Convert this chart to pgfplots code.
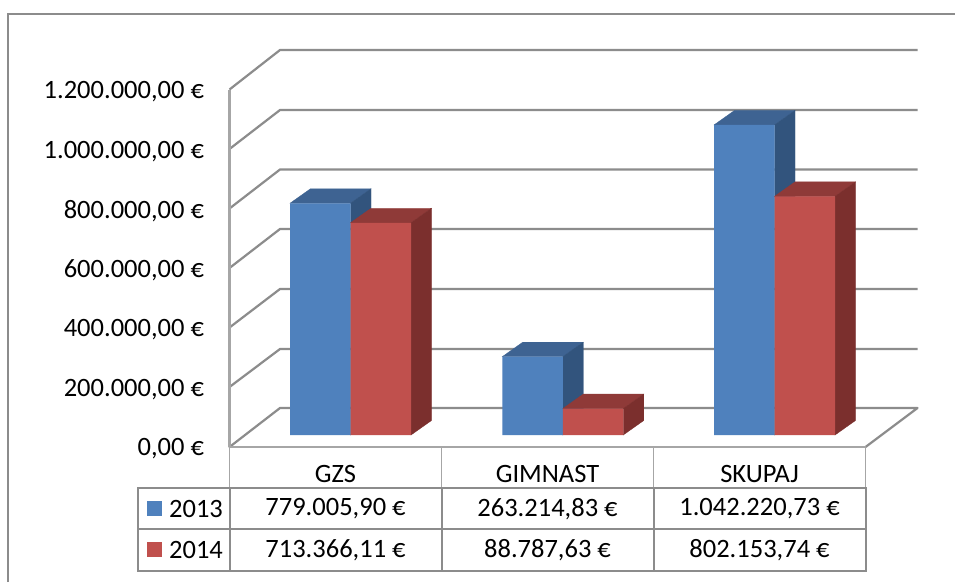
\documentclass[border=0pt]{standalone}
\usepackage{fontspec}
\setmainfont{Carlito}
\usepackage{pgfplots}
\usepackage{pgfplotstable}
\pgfplotsset{compat=1.18}

\definecolor{blueF}{HTML}{4F81BD}
\definecolor{blueT}{HTML}{3E6392}
\definecolor{blueS}{HTML}{32547D}
\definecolor{redF}{HTML}{C0504D}
\definecolor{redT}{HTML}{8F3A38}
\definecolor{redS}{HTML}{7B2F2D}
\definecolor{frame}{HTML}{8C8C8C}
\definecolor{framelight}{HTML}{A6A6A6}

% x is in picture pixels, so that the bars sit where the reference has them
\pgfplotstableread{
x       y13         y14
350.5   779005.90   713366.11
562.75  263214.83   88787.63
774.5   1042220.73  802153.74
}\euros

\begin{document}
\begin{tikzpicture}
\begin{scope}[x=1pt,y=-1pt]
\useasboundingbox (0,0) rectangle (955,582);
\fill[white] (0,0) rectangle (955,582);

% outer frame, open on the right and at the bottom
\draw[frame,line width=2pt] (7.5,582) -- (7.5,14) -- (955,14);

% back wall and floor
\begin{scope}[frame,line width=2.2pt,line join=round]
\foreach \f/\b in {89.5/50,149/110,208.5/169.5,268/229,327.5/289,387/349}
  \draw (229.5,\f) -- (280,\b) -- (917.5,\b);
\draw (229.5,447) -- (280,408) -- (917.5,408) -- (865.5,447);
\draw[framelight] (229.5,89.5) -- (229.5,447) -- (865.5,447);
\end{scope}
\end{scope}

\begin{axis}[
    at={(229.5pt,-435pt)},
    anchor=south west,
    scale only axis,
    width=636pt,
    height=357pt,
    xmin=229.5, xmax=865.5,
    ymin=0, ymax=1200000,
    clip=false,
    axis line style={draw=none},
    major tick length=0pt,
    tick style={draw=none},
    scaled y ticks=false,
    ytick={0,200000,400000,600000,800000,1000000,1200000},
    yticklabels={{0,00 €},{200.000,00 €},{400.000,00 €},{600.000,00 €},{800.000,00 €},{1.000.000,00 €},{1.200.000,00 €}},
    yticklabel style={anchor=east,xshift=-22pt,yshift=-14pt,font=\fontsize{26.5}{30}\selectfont},
    xtick={335.5,547.5,759.5},
    xticklabels={GZS,GIMNAST,SKUPAJ},
    xticklabel style={anchor=center,yshift=-39pt,font=\fontsize{26.5}{30}\selectfont},
]
% 2013: tops and sides
\addplot[fill=blueT,draw=blueT,line width=.3pt] coordinates {(290,779005.90) (350.5,779005.90) (371,827745) (310.5,827745)} -- cycle;
\addplot[fill=blueS,draw=blueS,line width=.3pt] coordinates {(350.5,0) (350.5,779005.90) (371,827745) (371,48739)} -- cycle;
\addplot[fill=blueT,draw=blueT,line width=.3pt] coordinates {(502.25,263214.83) (562.75,263214.83) (583.25,311954) (522.75,311954)} -- cycle;
\addplot[fill=blueS,draw=blueS,line width=.3pt] coordinates {(562.75,0) (562.75,263214.83) (583.25,311954) (583.25,48739)} -- cycle;
\addplot[fill=blueT,draw=blueT,line width=.3pt] coordinates {(714,1042220.73) (774.5,1042220.73) (795,1090960) (734.5,1090960)} -- cycle;
\addplot[fill=blueS,draw=blueS,line width=.3pt] coordinates {(774.5,0) (774.5,1042220.73) (795,1090960) (795,48739)} -- cycle;
\addplot[ybar,bar width=60.5pt,bar shift=-30.25pt,fill=blueF,draw=none] table[x=x,y=y13] {\euros};
% 2014: tops and sides
\addplot[fill=redT,draw=redT,line width=.3pt] coordinates {(350.5,713366.11) (411,713366.11) (431.5,762105) (371,762105)} -- cycle;
\addplot[fill=redS,draw=redS,line width=.3pt] coordinates {(411,0) (411,713366.11) (431.5,762105) (431.5,48739)} -- cycle;
\addplot[fill=redT,draw=redT,line width=.3pt] coordinates {(562.75,88787.63) (623.25,88787.63) (643.75,137527) (583.25,137527)} -- cycle;
\addplot[fill=redS,draw=redS,line width=.3pt] coordinates {(623.25,0) (623.25,88787.63) (643.75,137527) (643.75,48739)} -- cycle;
\addplot[fill=redT,draw=redT,line width=.3pt] coordinates {(774.5,802153.74) (835,802153.74) (855.5,850893) (795,850893)} -- cycle;
\addplot[fill=redS,draw=redS,line width=.3pt] coordinates {(835,0) (835,802153.74) (855.5,850893) (855.5,48739)} -- cycle;
\addplot[ybar,bar width=60.5pt,bar shift=30.25pt,fill=redF,draw=none] table[x=x,y=y14] {\euros};
\end{axis}

% data table under the plot
\begin{scope}[x=1pt,y=-1pt]
\fontsize{26.5}{30}\selectfont
\foreach \x in {229.5,441.5,653.5,865.5}
  \draw[framelight,line width=1.8pt] (\x,447) -- (\x,487.5);
\begin{scope}[frame,line width=2pt]
\draw (138,487.5) rectangle (865.5,571);
\draw (138,529) -- (865.5,529);
\foreach \x in {229.5,441.5,653.5} \draw (\x,487.5) -- (\x,571);
\end{scope}
\fill[blueF] (147,501) rectangle (162,516);
\fill[redF] (147,542) rectangle (162,557);
\node[anchor=center,inner sep=0pt] at (196,509) {2013};
\node[anchor=center,inner sep=0pt] at (196,550) {2014};
\node[anchor=center,inner sep=0pt] at (335.5,509) {779.005,90 €};
\node[anchor=center,inner sep=0pt] at (335.5,550) {713.366,11 €};
\node[anchor=center,inner sep=0pt] at (547.5,509) {263.214,83 €};
\node[anchor=center,inner sep=0pt] at (547.5,550) {88.787,63 €};
\node[anchor=center,inner sep=0pt] at (759.5,509) {1.042.220,73 €};
\node[anchor=center,inner sep=0pt] at (759.5,550) {802.153,74 €};
\end{scope}
\end{tikzpicture}
\end{document}
